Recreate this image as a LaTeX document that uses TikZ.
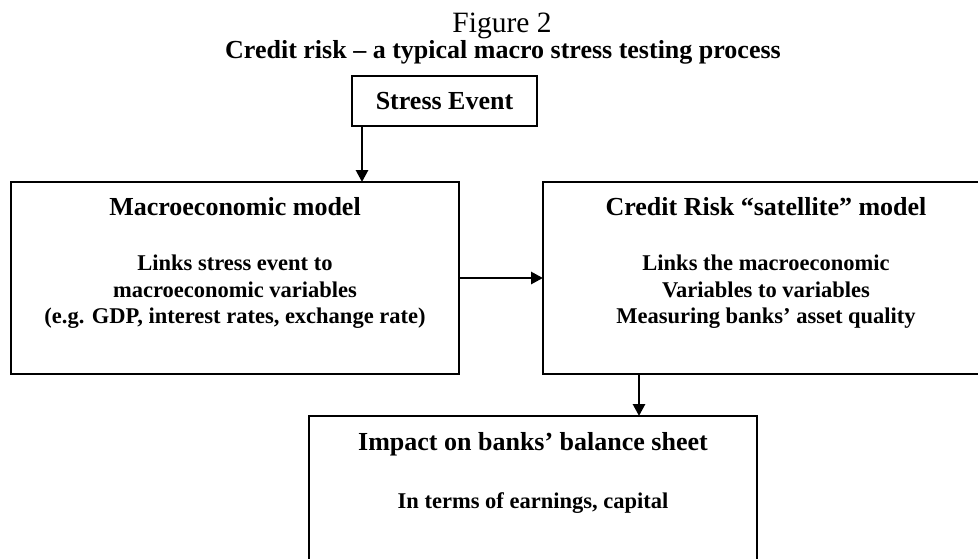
\documentclass[tikz,border=0pt]{standalone}
\usepackage{fontspec}
\setmainfont{Liberation Serif}
\usetikzlibrary{arrows.meta}
\begin{document}
\begin{tikzpicture}[x=1pt,y=-1pt,
  box/.style={draw, line width=1.3pt, inner sep=0pt, outer sep=0pt, anchor=north west},
  head/.style={font=\bfseries\fontsize{26}{31}\selectfont, anchor=base, inner sep=0pt},
  body/.style={font=\bfseries\fontsize{22.5}{27}\selectfont, anchor=base, inner sep=0pt},
  arr/.style={line width=2.8pt, -{Triangle[length=12pt,width=12pt]}}]
\clip (0,0) rectangle (978,558);
\useasboundingbox (0,0) rectangle (978,558);
% title
\node[font=\fontsize{29.5}{35}\selectfont, anchor=base, inner sep=0pt] (fig) at (502,32) {Figure 2};
\node[font=\bfseries\fontsize{26}{31}\selectfont, anchor=base, inner sep=0pt] (title) at (503,58) {Credit risk – a typical macro stress testing process};
% boxes
\node[box, minimum width=185pt, minimum height=50pt] (se) at (352,76) {};
\node[box, minimum width=448pt, minimum height=192pt] (macro) at (11,182) {};
\node[box, minimum width=446pt, minimum height=192pt] (credit) at (543,182) {};
\node[box, minimum width=448pt, minimum height=160pt] (impact) at (309,416) {};
% texts
\node[head] (setxt) at (444.5,109) {Stress Event};
\node[head] (mh) at (235,215) {Macroeconomic model};
\node[body] (m1) at (235,270) {Links stress event to};
\node[body] (m2) at (235,297) {macroeconomic variables};
\node[body] (m3) at (235,323) {(e.g. GDP, interest rates, exchange rate)};
\node[head] (ch) at (766,215) {Credit Risk “satellite” model};
\node[body] (c1) at (766,270) {Links the macroeconomic};
\node[body] (c2) at (766,297) {Variables to variables};
\node[body] (c3) at (766,323) {Measuring banks’ asset quality};
\node[head] (ih) at (533,450) {Impact on banks’ balance sheet};
\node[body] (i1) at (533,508) {In terms of earnings, capital};
% connectors
\draw[arr] ([xshift=10pt]se.south west) -- ([xshift=10pt]se.south west |- macro.north);
\draw[arr] (macro.east |- 0,278) -- (credit.west |- 0,278);
\draw[arr] (credit.south -| 639,0) -- (impact.north -| 639,0);
\end{tikzpicture}
\end{document}
